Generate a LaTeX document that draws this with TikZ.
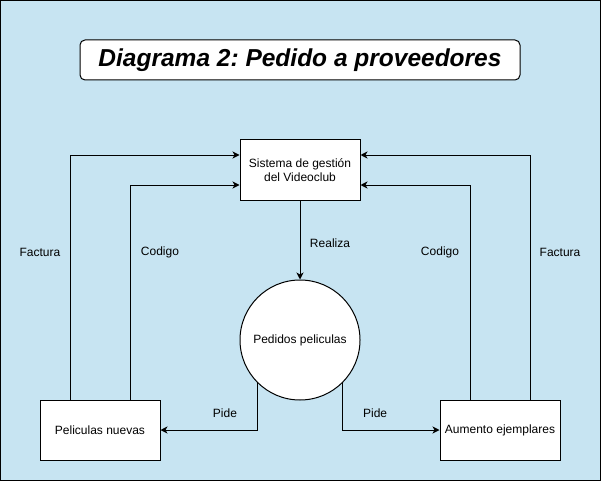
\documentclass[tikz,border=0pt]{standalone}
\usepackage{fontspec}
\setmainfont{Liberation Sans}
\usetikzlibrary{arrows.meta}
\definecolor{bg}{RGB}{199,228,242}
\frenchspacing
\begin{document}
\begin{tikzpicture}[x=1pt,y=-1pt,
  box/.style={draw, fill=white, line width=1pt, minimum width=120pt, minimum height=60pt, inner sep=0pt, align=center, font=\fontsize{12}{14}\selectfont},
  proc/.style={draw, fill=white, line width=1pt, circle, minimum size=120pt, inner sep=0pt, align=center, font=\fontsize{12}{14}\selectfont},
  titlebox/.style={draw, fill=white, line width=1pt, rounded corners=5pt, minimum width=440pt, minimum height=40pt, inner sep=0pt, font=\fontsize{24.5}{28}\selectfont\bfseries\itshape},
  lbl/.style={font=\fontsize{12}{14}\selectfont, inner sep=1pt},
  flow/.style={line width=1pt, -{Stealth[length=7pt,width=7pt,inset=2pt]}}]
\useasboundingbox (0,0) rectangle (601,481);
\draw[fill=bg, line width=1pt] (0.5,0.5) rectangle (600.5,480.5);
\node[titlebox] (title) at (300,60) {Diagrama 2: Pedido a proveedores};
\node[box] (sis) at (300,170) {Sistema de gestión\\del Videoclub};
\node[proc] (ped) at (300,340) {Pedidos peliculas};
\node[box] (pn) at (100,430) {Peliculas nuevas};
\node[box] (ae) at (500,430) {Aumento ejemplares};
\draw[flow] (sis) -- (ped) node[lbl, pos=0.54, xshift=30pt] (lrea) {Realiza};
\draw[flow] ([xshift=-30pt]pn.north) |- ([yshift=15pt]sis.west) node[lbl, pos=0.3, xshift=-30pt] (lfl) {Factura};
\draw[flow] ([xshift=30pt]pn.north) |- ([yshift=-15pt]sis.west) node[lbl, pos=0.342, xshift=30pt] (lcl) {Codigo};
\draw[flow] ([xshift=-30pt]ae.north) |- ([yshift=-15pt]sis.east) node[lbl, pos=0.342, xshift=-30pt] (lcr) {Codigo};
\draw[flow] ([xshift=30pt]ae.north) |- ([yshift=15pt]sis.east) node[lbl, pos=0.3, xshift=30pt] (lfr) {Factura};
\draw[flow] (ped.south west) |- (pn.east) node[lbl, pos=0.667, yshift=17pt] (lpl) {Pide};
\draw[flow] (ped.south east) |- (ae.west) node[lbl, pos=0.667, yshift=17pt] (lpr) {Pide};
\end{tikzpicture}
\end{document}
